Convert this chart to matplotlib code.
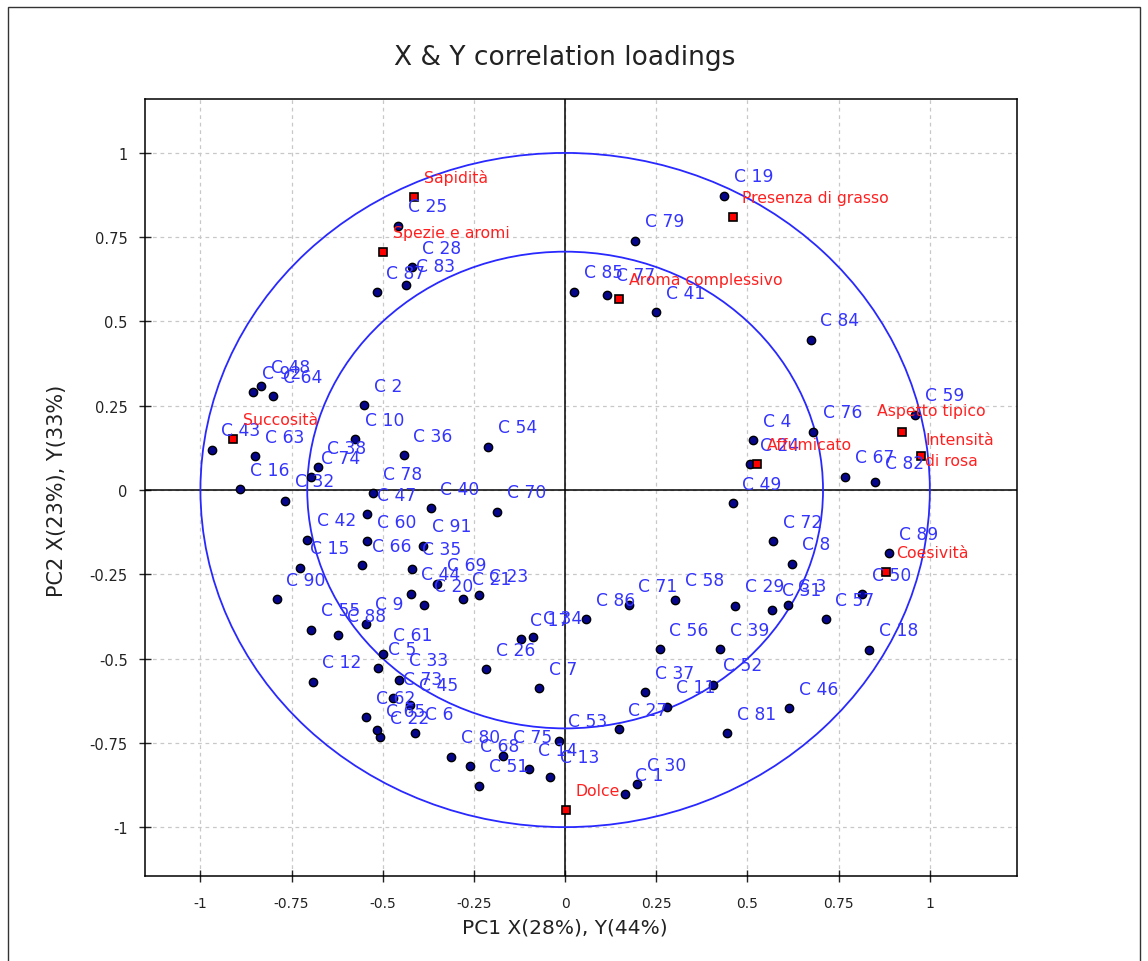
import numpy as np
import matplotlib
matplotlib.use("Agg")
import matplotlib.pyplot as plt
from matplotlib.patches import Circle, Rectangle

# sample loadings (X)
sample_names = ["C %d" % i for i in range(1, 93)]
sample_x = [0.164, -0.551, 0.611, 0.515, -0.512, -0.412, -0.072, 0.623, -0.547, -0.576,
            0.278, -0.692, -0.041, -0.100, -0.727, -0.891, -0.122, 0.833, 0.436, -0.387,
            -0.281, -0.508, -0.235, 0.507, -0.458, -0.216, 0.147, -0.419, 0.466, 0.198,
            0.568, -0.768, -0.456, -0.087, -0.419, -0.443, 0.220, -0.679, 0.426, -0.369,
            0.249, -0.707, -0.969, -0.423, -0.426, 0.614, -0.542, -0.834, 0.459, 0.814,
            -0.236, 0.406, -0.018, -0.211, -0.697, 0.259, 0.714, 0.301, 0.960, -0.542,
            -0.499, -0.546, -0.850, -0.800, -0.517, -0.556, 0.767, -0.260, -0.351, -0.186,
            0.174, 0.570, -0.471, -0.697, -0.170, 0.680, 0.114, -0.526, 0.192, -0.312,
            0.445, 0.851, -0.435, 0.673, 0.025, 0.057, -0.517, -0.624, 0.889, -0.791,
            -0.391, -0.857]
sample_y = [-0.902, 0.252, -0.341, 0.148, -0.529, -0.722, -0.588, -0.219, -0.396, 0.151,
            -0.643, -0.569, -0.850, -0.828, -0.231, 0.003, -0.442, -0.474, 0.873, -0.341,
            -0.323, -0.734, -0.312, 0.076, 0.784, -0.531, -0.709, 0.661, -0.343, -0.872,
            -0.355, -0.032, -0.563, -0.437, -0.234, 0.104, -0.600, 0.067, -0.472, -0.054,
            0.527, -0.147, 0.120, -0.307, -0.637, -0.648, -0.071, 0.308, -0.039, -0.309,
            -0.877, -0.577, -0.744, 0.128, -0.414, -0.472, -0.383, -0.326, 0.223, -0.152,
            -0.487, -0.674, 0.100, 0.278, -0.713, -0.223, 0.039, -0.818, -0.279, -0.065,
            -0.341, -0.152, -0.617, 0.038, -0.790, 0.173, 0.579, -0.009, 0.740, -0.791,
            -0.721, 0.023, 0.608, 0.446, 0.588, -0.383, 0.587, -0.431, -0.187, -0.324,
            -0.165, 0.290]
sample_names[-1] = "C 92"

# sensory attributes (Y)
attr_names = ["Sapidità", "Spezie e aromi", "Presenza di grasso", "Aroma complessivo",
              "Succosità", "Affumicato", "Aspetto tipico", "Intensità\ndi rosa",
              "Coesività", "Dolce"]
attr_x = [-0.415, -0.499, 0.459, 0.149, -0.910, 0.526, 0.924, 0.976, 0.880, 0.001]
attr_y = [0.870, 0.705, 0.809, 0.567, 0.151, 0.078, 0.173, 0.102, -0.244, -0.950]

ticks = [-1, -0.75, -0.5, -0.25, 0, 0.25, 0.5, 0.75, 1]
tick_labels = ["-1", "-0.75", "-0.5", "-0.25", "0", "0.25", "0.5", "0.75", "1"]

fig = plt.figure(figsize=(11.48, 9.62), dpi=100)
ax = fig.add_axes([145 / 1148, 1 - 877 / 962, 872 / 1148, 777 / 962])

ax.set_xlim(-1.152, 1.239)
ax.set_ylim(-1.145, 1.160)

ax.set_xticks(ticks)
ax.set_xticklabels(tick_labels)
ax.set_yticks(ticks)
ax.set_yticklabels(tick_labels)
ax.tick_params(direction="inout", length=9, width=1, colors="#222222")
ax.tick_params(axis="x", labelsize=10, pad=10)
ax.tick_params(axis="y", labelsize=10.5, pad=8)
ax.grid(True, color="#c8c8c8", linestyle=(0, (3, 3)), linewidth=0.9)
ax.set_axisbelow(True)

ax.axhline(0, color="black", lw=1.1, zorder=1)
ax.axvline(0, color="black", lw=1.1, zorder=1)

for r in [1.0, np.sqrt(0.5)]:
    ax.add_patch(Circle((0, 0), r, fill=False, edgecolor="#2828ff", lw=1.3, zorder=2))

ax.plot(sample_x, sample_y, "o", ms=6, mfc="#06068a", mec="black", mew=1.0,
        ls="none", zorder=3)
ax.plot(attr_x, attr_y, "s", ms=5.5, mfc="#ff0000", mec="black", mew=1.2,
        ls="none", zorder=4)

for n, x, y in zip(sample_names, sample_x, sample_y):
    ax.annotate(n, (x, y), xytext=(7, 14), textcoords="offset points",
                color="#3434ff", fontsize=12.3, ha="left", va="center", zorder=5)

for n, x, y in zip(attr_names, attr_x, attr_y):
    off = (7, 14)
    if n == "Aspetto tipico":
        off = (-18, 15)
    elif n.startswith("Intensità"):
        off = (3, 4)
    ax.annotate(n, (x, y), xytext=off, textcoords="offset points",
                color="#ff2020", fontsize=11.3, ha="left", va="center", zorder=6,
                linespacing=1.5)

for s in ax.spines.values():
    s.set_linewidth(1.1)

fig.text(565 / 1148, 1 - 58 / 962, "X & Y correlation loadings", ha="center",
         va="center", fontsize=19, color="#222222")
fig.text(565 / 1148, 1 - 928 / 962, "PC1 X(28%), Y(44%)", ha="center", va="center",
         fontsize=14.5, color="#222222")
fig.text(57 / 1148, 1 - 491 / 962, "PC2 X(23%), Y(33%)", ha="center", va="center",
         rotation=90, fontsize=15, color="#222222")

# outer frame of the panel
fig.add_artist(Rectangle((8 / 1148, -0.01), 1132 / 1148, 1 - 8 / 962 + 0.01,
                         transform=fig.transFigure, fill=False, edgecolor="#333333",
                         lw=1.0))

fig.savefig("out.png", dpi=100)
